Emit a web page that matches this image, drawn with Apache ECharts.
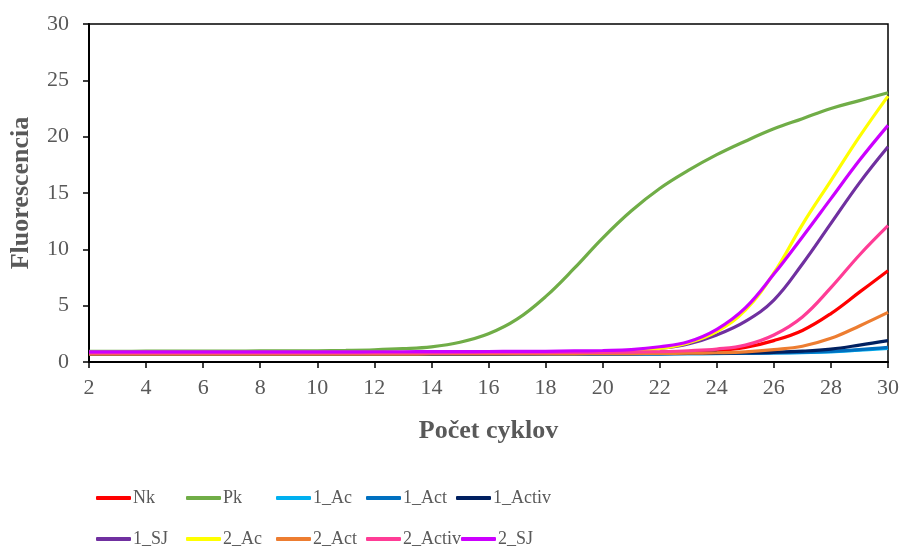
<!DOCTYPE html>
<html><head><meta charset="utf-8">
<script src="https://cdn.jsdelivr.net/npm/echarts@6/dist/echarts.min.js"></script>
<style>html,body{margin:0;padding:0;background:#fff}#c{width:902px;height:549px}</style>
</head><body><div id="c"></div>
<script>
const cycles = [2,3,4,5,6,7,8,9,10,11,12,13,14,15,16,17,18,19,20,21,22,23,24,25,26,27,28,29,30];
const seriesNames = ['Nk','Pk','1_Ac','1_Act','1_Activ','1_SJ','2_Ac','2_Act','2_Activ','2_SJ'];
const colors = ['#FF0000','#70AD47','#00B0F0','#0070C0','#002060','#7030A0','#FFFF00','#ED7D31','#FF3C96','#CC00FF'];
const Nk      = [0.75,0.75,0.75,0.75,0.75,0.75,0.75,0.75,0.75,0.75,0.76,0.76,0.77,0.77,0.78,0.78,0.79,0.8,0.81,0.83,0.85,0.9,1.0,1.3,1.9,2.8,4.3,6.2,8.1];
const Pk      = [0.95,0.95,0.96,0.96,0.97,0.97,0.98,0.99,1.0,1.03,1.08,1.18,1.35,1.75,2.5,3.8,5.8,8.3,11.0,13.4,15.4,17.0,18.4,19.6,20.7,21.6,22.5,23.2,23.9];
const Ac1     = [0.7,0.7,0.7,0.7,0.7,0.7,0.7,0.7,0.7,0.7,0.7,0.7,0.7,0.7,0.7,0.7,0.71,0.71,0.72,0.72,0.73,0.74,0.75,0.77,0.8,0.84,0.9,1.05,1.2];
const Act1    = [0.7,0.7,0.7,0.7,0.7,0.7,0.7,0.7,0.7,0.7,0.7,0.7,0.7,0.7,0.7,0.7,0.71,0.71,0.72,0.72,0.73,0.74,0.76,0.78,0.81,0.86,0.95,1.1,1.3];
const Activ1  = [0.7,0.7,0.7,0.7,0.7,0.7,0.7,0.7,0.7,0.7,0.7,0.7,0.7,0.7,0.7,0.71,0.71,0.72,0.72,0.73,0.74,0.76,0.78,0.81,0.86,0.96,1.15,1.5,1.9];
const SJ1     = [0.8,0.8,0.8,0.8,0.8,0.8,0.8,0.8,0.8,0.8,0.81,0.81,0.82,0.82,0.83,0.84,0.85,0.87,0.9,1.0,1.2,1.6,2.4,3.6,5.5,8.7,12.3,15.9,19.1];
const Ac2     = [0.85,0.85,0.85,0.85,0.85,0.85,0.85,0.85,0.85,0.85,0.86,0.86,0.87,0.87,0.88,0.89,0.9,0.92,0.95,1.02,1.2,1.7,2.7,4.6,7.9,12.2,16.1,20.0,23.6];
const Act2    = [0.7,0.7,0.7,0.7,0.7,0.7,0.7,0.7,0.7,0.7,0.7,0.7,0.71,0.71,0.72,0.72,0.73,0.73,0.74,0.75,0.76,0.78,0.82,0.9,1.1,1.4,2.1,3.2,4.4];
const Activ2  = [0.8,0.8,0.8,0.8,0.8,0.8,0.8,0.8,0.8,0.8,0.8,0.81,0.81,0.82,0.82,0.83,0.84,0.85,0.86,0.88,0.92,1.0,1.15,1.5,2.4,4.0,6.6,9.5,12.1];
const SJ2     = [0.9,0.9,0.9,0.9,0.9,0.9,0.9,0.9,0.9,0.9,0.91,0.91,0.92,0.92,0.93,0.94,0.95,0.98,1.02,1.1,1.35,1.8,2.9,4.8,7.8,11.1,14.5,17.9,21.0];
const allData = [Nk,Pk,Ac1,Act1,Activ1,SJ1,Ac2,Act2,Activ2,SJ2];
const yTicks = [0,5,10,15,20,25,30];
const xTicks = [2,4,6,8,10,12,14,16,18,20,22,24,26,28,30];

const font = 'Liberation Serif';
const series = seriesNames.map((n,i)=>({
  name:n, type:'line', smooth:0.4, showSymbol:false, symbol:'none',
  data: cycles.map((c,k)=>[c, allData[i][k]]),
  lineStyle:{color:colors[i], width:3.2}, itemStyle:{color:colors[i]}
}));
const legendCommon = {
  icon:'roundRect', itemWidth:35, itemHeight:4, itemGap:0, padding:0,
  textStyle:{fontFamily:font, fontSize:18, color:'#595959', width:53, lineHeight:20, padding:[0,0,0,-3]},
  left:96
};
const chart = echarts.init(document.getElementById('c'));
chart.setOption({
  animation:false,
  grid:{left:88, right:13, top:24, bottom:187, show:true, borderColor:'#000', borderWidth:1.5, backgroundColor:'transparent'},
  xAxis:{type:'value', min:2, max:30, interval:2,
    name:'Počet cyklov', nameLocation:'middle', nameGap:56,
    nameTextStyle:{fontFamily:font, fontSize:26, fontWeight:'bold', color:'#595959'},
    axisLine:{lineStyle:{color:'#000', width:2}},
    axisTick:{show:true, inside:false, length:6, lineStyle:{color:'#000', width:1.5}},
    axisLabel:{fontFamily:font, fontSize:22, color:'#595959', margin:15,
      formatter:v=>xTicks.includes(v)?String(v):''},
    splitLine:{show:false}},
  yAxis:{type:'value', min:0, max:30, interval:5,
    name:'Fluorescencia', nameLocation:'middle', nameGap:55,
    nameTextStyle:{fontFamily:font, fontSize:26, fontWeight:'bold', color:'#595959'},
    axisLine:{show:true, lineStyle:{color:'#000', width:2}},
    axisTick:{show:true, inside:false, length:6, lineStyle:{color:'#000', width:1.5}},
    axisLabel:{fontFamily:font, fontSize:22, color:'#595959', margin:20,
      formatter:v=>yTicks.includes(v)?String(v):''},
    splitLine:{show:false}},
  legend:[
    Object.assign({}, legendCommon, {top:488, data:seriesNames.slice(0,5)}),
    Object.assign({}, legendCommon, {top:529, data:seriesNames.slice(5)})
  ],
  series
});
</script></body></html>
